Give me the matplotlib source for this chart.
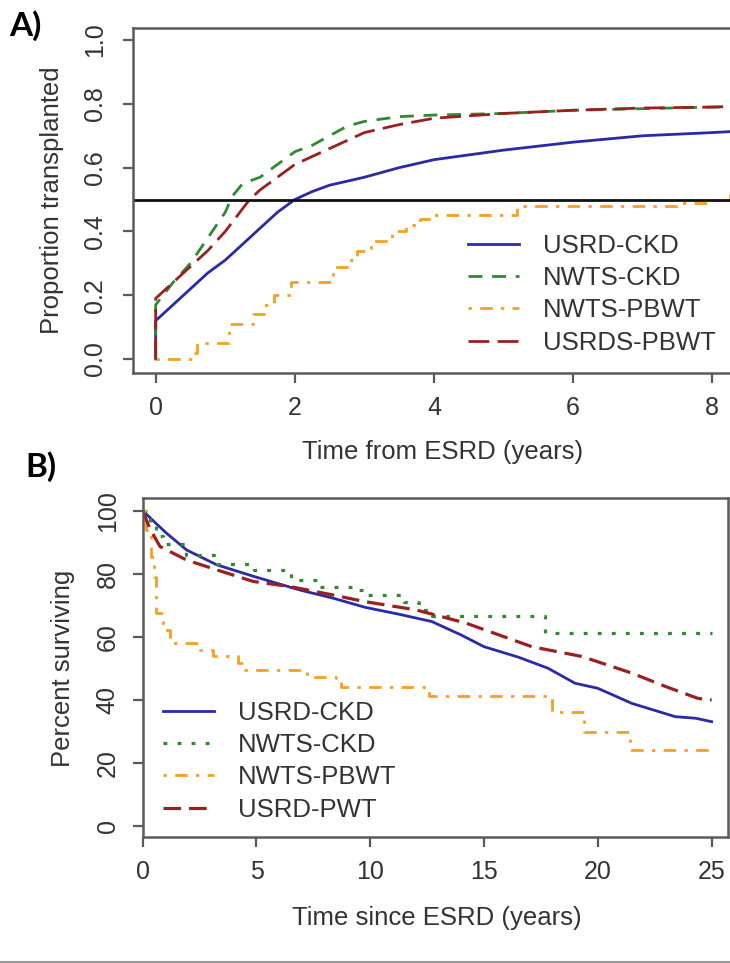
import matplotlib
matplotlib.use('Agg')
import matplotlib.pyplot as plt
from matplotlib.lines import Line2D

# ---------------- Panel A data: proportion transplanted ----------------
a_usrd_ckd_t = [0, 0, 0.25, 0.5, 0.75, 1.0, 1.25, 1.5, 1.75, 2.0, 2.25, 2.5, 3.0, 3.5, 4.0, 4.5, 5.0, 6.0, 7.0, 8.0, 8.6]
a_usrd_ckd_v = [0, 0.12, 0.17, 0.22, 0.27, 0.31, 0.36, 0.41, 0.46, 0.50, 0.525, 0.545, 0.57, 0.60, 0.625, 0.64, 0.655, 0.68, 0.70, 0.71, 0.717]

a_nwts_ckd_t = [0, 0, 0.25, 0.5, 0.75, 1.0, 1.1, 1.25, 1.5, 1.75, 2.0, 2.25, 2.5, 2.75, 3.0, 3.5, 4.0, 5.0, 6.0, 7.0, 8.0, 8.6]
a_nwts_ckd_v = [0, 0.17, 0.24, 0.30, 0.38, 0.46, 0.51, 0.55, 0.57, 0.61, 0.65, 0.67, 0.70, 0.73, 0.745, 0.76, 0.765, 0.77, 0.78, 0.785, 0.79, 0.79]

a_nwts_pbwt_t = [0, 0.4, 0.55, 0.6, 0.95, 1.05, 1.3, 1.4, 1.55, 1.7, 1.95, 2.45, 2.55, 2.75, 2.9, 3.1, 3.4, 3.6, 3.8, 4.0, 5.2, 6.0, 7.5, 8.0, 8.25, 8.6]
a_nwts_pbwt_v = [0, 0, 0.02, 0.05, 0.05, 0.11, 0.11, 0.14, 0.17, 0.20, 0.24, 0.24, 0.29, 0.31, 0.34, 0.37, 0.40, 0.42, 0.44, 0.45, 0.48, 0.48, 0.49, 0.50, 0.52, 0.52]

a_usrds_pbwt_t = [0, 0, 0.25, 0.5, 0.75, 1.0, 1.35, 1.5, 2.0, 2.5, 3.0, 3.5, 4.0, 5.0, 6.0, 7.0, 8.0, 8.6]
a_usrds_pbwt_v = [0, 0.19, 0.24, 0.29, 0.34, 0.40, 0.50, 0.53, 0.61, 0.66, 0.71, 0.735, 0.755, 0.77, 0.78, 0.787, 0.79, 0.795]

a_labels = ['USRD-CKD', 'NWTS-CKD', 'NWTS-PBWT', 'USRDS-PBWT']
a_xticks = [0, 2, 4, 6, 8]
a_yticks = [0.0, 0.2, 0.4, 0.6, 0.8, 1.0]
a_hline = 0.5

# ---------------- Panel B data: percent surviving ----------------
b_usrd_ckd_t = [0, 0.5, 1.05, 1.93, 3.25, 4.93, 6.9, 8.37, 9.77, 11.2, 12.7, 14.0, 15.0, 16.5, 17.8, 19.0, 20.0, 21.5, 23.4, 24.3, 25.0]
b_usrd_ckd_v = [100, 96.5, 92.8, 87.5, 82.8, 79.0, 74.8, 72.2, 69.3, 67.2, 64.8, 60.5, 56.8, 53.5, 50.0, 45.2, 43.6, 38.8, 34.6, 34.1, 33.0]

b_nwts_ckd_t = [0, 0.3, 0.6, 0.9, 1.9, 3.25, 4.9, 6.1, 6.5, 7.7, 9.3, 9.8, 11.2, 11.5, 12.1, 12.4, 12.7, 17.4, 17.7, 25.0]
b_nwts_ckd_v = [100, 95.0, 92.0, 89.5, 86.0, 83.0, 81.2, 81.2, 78.0, 75.9, 74.8, 73.2, 73.2, 71.1, 70.6, 68.5, 66.4, 66.4, 61.1, 61.1]

b_nwts_pbwt_t = [0, 0.15, 0.35, 0.5, 0.6, 0.9, 1.2, 1.93, 2.5, 3.1, 3.9, 4.2, 4.5, 6.9, 7.2, 8.5, 8.7, 12.4, 12.6, 17.8, 18.0, 19.3, 19.4, 21.3, 21.4, 25.0]
b_nwts_pbwt_v = [100, 93.9, 85.4, 79.0, 67.4, 62.0, 57.9, 57.9, 55.8, 53.7, 53.7, 51.5, 49.4, 49.4, 47.3, 47.0, 44.1, 44.1, 41.0, 41.0, 36.2, 36.2, 29.8, 29.8, 24.0, 24.0]

b_usrd_pwt_t = [0, 0.3, 0.76, 1.93, 3.25, 4.86, 6.47, 8.37, 9.77, 12.0, 14.2, 17.1, 19.3, 21.5, 23.0, 24.4, 25.0]
b_usrd_pwt_v = [100, 94.5, 88.6, 84.3, 81.2, 77.5, 75.9, 73.2, 71.1, 68.5, 64.3, 56.8, 53.7, 48.4, 44.1, 40.4, 39.9]

b_labels = ['USRD-CKD', 'NWTS-CKD', 'NWTS-PBWT', 'USRD-PWT']
b_xticks = [0, 5, 10, 15, 20, 25]
b_yticks = [0, 20, 40, 60, 80, 100]

# ---------------- styling ----------------
FONT = 'Liberation Sans'
plt.rcParams['font.family'] = [FONT, 'DejaVu Sans']
C_BLUE = '#2a2aa6'
C_GREEN = '#2f8a2f'
C_ORANGE = '#f5a024'
C_RED = '#9c1f1f'
SPINE = '#5a5a5a'
LW = 2.0
TICK_FS = 18
LAB_FS = 18.5
LEG_FS = 18.5

W, H = 730, 963
fig = plt.figure(figsize=(W / 100, H / 100), dpi=100)


def rect(l, t, r, b):
    return [l / W, 1 - b / H, (r - l) / W, (b - t) / H]


def style_axes(ax, ypad, xpad):
    for s in ['top', 'right', 'left', 'bottom']:
        ax.spines[s].set_color(SPINE)
        ax.spines[s].set_linewidth(1.8)
    ax.tick_params(axis='both', direction='out', length=7.5, width=1.6,
                   color=SPINE, labelsize=TICK_FS, labelcolor='#333333')
    ax.tick_params(axis='y', pad=ypad)
    ax.tick_params(axis='x', pad=xpad)
    for lab in ax.get_yticklabels():
        lab.set_rotation(90)
        lab.set_va('center')


# ---------------- Panel A ----------------
ax1 = fig.add_axes(rect(133, 28, 754, 373))
ax1.plot(a_usrd_ckd_t, a_usrd_ckd_v, color=C_BLUE, lw=LW, ls='-')
ax1.plot(a_nwts_ckd_t, a_nwts_ckd_v, color=C_GREEN, lw=LW, ls=(0, (5.0, 3.5)))
ax1.plot(a_nwts_pbwt_t, a_nwts_pbwt_v, color=C_ORANGE, lw=LW, ls=(0, (1.2, 3.0, 4.5, 3.0)),
         drawstyle='steps-post')
ax1.plot(a_usrds_pbwt_t, a_usrds_pbwt_v, color=C_RED, lw=LW, ls=(0, (7.5, 3.0)))
ax1.axhline(a_hline, color='#111111', lw=2.0)
ax1.set_xlim(-0.326, 8.6)
ax1.set_ylim(-0.044, 1.038)
ax1.set_xticks(a_xticks)
ax1.set_xticklabels([str(v) for v in a_xticks])
ax1.set_yticks(a_yticks)
ax1.set_yticklabels(['%.1f' % v for v in a_yticks])
style_axes(ax1, ypad=11, xpad=9)

handles_a = [
    Line2D([], [], color=C_BLUE, lw=LW, ls='-'),
    Line2D([], [], color=C_GREEN, lw=LW, ls=(0, (5.0, 3.5))),
    Line2D([], [], color=C_ORANGE, lw=LW, ls=(0, (1.2, 3.0, 4.5, 3.0))),
    Line2D([], [], color=C_RED, lw=LW, ls=(0, (7.5, 3.0))),
]
leg1 = fig.legend(handles_a, a_labels, loc='upper left',
                  bbox_to_anchor=(468 / W, 1 - 234 / H), frameon=False,
                  fontsize=LEG_FS, handlelength=2.0, handletextpad=0.9,
                  labelspacing=0.32, borderpad=0, borderaxespad=0)
for t in leg1.get_texts():
    t.set_color('#333333')

fig.text(52 / W, 1 - 200 / H, 'Proportion transplanted', rotation=90,
         ha='center', va='center', fontsize=LAB_FS, color='#333333')
fig.text(443 / W, 1 - 452 / H, 'Time from ESRD (years)',
         ha='center', va='center', fontsize=LAB_FS, color='#333333')

# ---------------- Panel B ----------------
ax2 = fig.add_axes(rect(142.7, 498.3, 728, 836.7))
ax2.plot(b_usrd_ckd_t, b_usrd_ckd_v, color=C_BLUE, lw=LW, ls='-')
ax2.plot(b_nwts_ckd_t, b_nwts_ckd_v, color=C_GREEN, lw=LW + 0.3, ls=(0, (1.2, 3.2)),
         drawstyle='steps-post')
ax2.plot(b_nwts_pbwt_t, b_nwts_pbwt_v, color=C_ORANGE, lw=LW, ls=(0, (1.2, 3.0, 4.5, 3.0)),
         drawstyle='steps-post')
ax2.plot(b_usrd_pwt_t, b_usrd_pwt_v, color=C_RED, lw=LW + 0.3, ls=(0, (5.5, 2.5)))
ax2.set_xlim(0, 25.72)
ax2.set_ylim(-3.5, 103.9)
ax2.set_xticks(b_xticks)
ax2.set_xticklabels([str(v) for v in b_xticks])
ax2.set_yticks(b_yticks)
ax2.set_yticklabels([str(v) for v in b_yticks])
style_axes(ax2, ypad=9, xpad=9)

handles_b = [
    Line2D([], [], color=C_BLUE, lw=LW, ls='-'),
    Line2D([], [], color=C_GREEN, lw=LW + 0.3, ls=(0, (1.2, 3.2))),
    Line2D([], [], color=C_ORANGE, lw=LW, ls=(0, (1.2, 3.0, 4.5, 3.0))),
    Line2D([], [], color=C_RED, lw=LW + 0.3, ls=(0, (5.5, 2.5))),
]
leg2 = fig.legend(handles_b, b_labels, loc='upper left',
                  bbox_to_anchor=(163 / W, 1 - 701 / H), frameon=False,
                  fontsize=LEG_FS, handlelength=2.0, handletextpad=0.9,
                  labelspacing=0.32, borderpad=0, borderaxespad=0)
for t in leg2.get_texts():
    t.set_color('#333333')

fig.text(63 / W, 1 - 668 / H, 'Percent surviving', rotation=90,
         ha='center', va='center', fontsize=LAB_FS, color='#333333')
fig.text(437 / W, 1 - 918 / H, 'Time since ESRD (years)',
         ha='center', va='center', fontsize=LAB_FS, color='#333333')

# panel letters
fig.text(9 / W, 1 - 26 / H, 'A)', ha='left', va='center', fontsize=24,
         fontweight='bold', family=['Lato', 'DejaVu Sans'])
fig.text(25 / W, 1 - 467 / H, 'B)', ha='left', va='center', fontsize=24,
         fontweight='bold', family=['Lato', 'DejaVu Sans'])

# bottom border line
fig.add_artist(Line2D([0, 1], [1 - 961.5 / H, 1 - 961.5 / H], transform=fig.transFigure,
                      color='#999999', lw=1.5))

fig.savefig('out.png', dpi=100)
